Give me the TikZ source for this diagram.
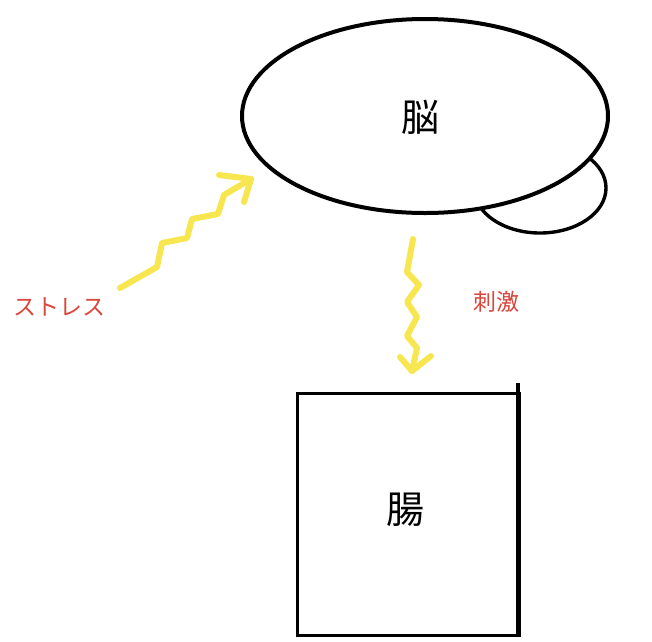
\documentclass[tikz,border=0pt]{standalone}
\usepackage{fontspec}
\newfontfamily\cjk{Noto Sans CJK JP}
\usetikzlibrary{shapes.geometric}
\definecolor{zap}{HTML}{F7E64F}
\definecolor{lbl}{HTML}{D9463B}
\tikzset{
  organ/.style={draw=black, fill=white, line width=4pt},
  zig/.style={draw=zap, line width=6pt, line cap=round, line join=round},
  lab/.style={text=lbl, font=\cjk\fontsize{23}{23}\selectfont, inner sep=0pt},
  big/.style={font=\cjk\fontsize{38}{38}\selectfont, inner sep=0pt}
}
\begin{document}
\begin{tikzpicture}[x=1pt,y=-1pt]
\useasboundingbox (0,0) rectangle (652,641);
% cerebellum
\draw[organ, line width=3.4pt] (540,188) ellipse [x radius=66, y radius=45];
% brain
\node[organ, ellipse, minimum width=366pt, minimum height=194pt, inner sep=0pt] (brain) at (425,116) {};
\node[big] (brainlabel) at (420,117) {脳};
% gut
\node[draw=black, line width=3.2pt, minimum width=222pt, minimum height=242pt, inner sep=0pt, anchor=north west] (gut) at (296,392) {};
\draw[line width=3.2pt] (518,383) -- (518,637);
\node[big] (gutlabel) at (405,510) {腸};
% labels
\node[lab] (stress) at (59,307) {ストレス};
\node[lab] (stim) at (496,302) {刺激};
% stress arrow
\coordinate (s0) at (120,288);
\coordinate (sT) at (251,179);
\draw[zig] (s0) -- (157,267) -- (162,243) -- (187,238) -- (192,219) -- (218,214) -- (224,195) -- (sT);
\draw[zig] (219,175) -- (sT) -- (244,202);
% stimulus arrow
\coordinate (t0) at (413,239);
\coordinate (tT) at (412,371);
\draw[zig] (t0) -- (407,272) -- (419,285) -- (407,302) -- (417,317) -- (407,336) -- (417,348) -- (tT);
\draw[zig] (400,357) -- (tT) -- (431,356);
\end{tikzpicture}
\end{document}
